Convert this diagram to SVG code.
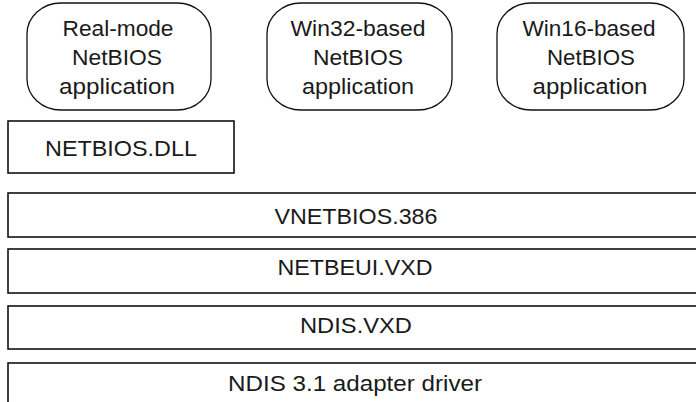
<svg xmlns="http://www.w3.org/2000/svg" width="696" height="402" viewBox="0 0 696 402">
<style>
.app{fill:#fff;stroke:#111;stroke-width:1.3}
.box{fill:#fff;stroke:#111;stroke-width:1.6}
text{font-family:"Liberation Sans",Arial,sans-serif;font-size:22px;fill:#1a1a1a;text-anchor:middle}
</style>
<rect width="696" height="402" fill="#fff"/>
<g id="realmode">
<rect class="app" x="27" y="3" width="184" height="107" rx="34" ry="31"/>
<text x="118" y="36" textLength="111" lengthAdjust="spacingAndGlyphs">Real-mode</text>
<text x="117" y="65" textLength="90" lengthAdjust="spacingAndGlyphs">NetBIOS</text>
<text x="117" y="94" textLength="116" lengthAdjust="spacingAndGlyphs">application</text>
</g>
<g id="win32">
<rect class="app" x="267" y="3" width="185" height="107" rx="34" ry="31"/>
<text x="358" y="36" textLength="135" lengthAdjust="spacingAndGlyphs">Win32-based</text>
<text x="358" y="65" textLength="90" lengthAdjust="spacingAndGlyphs">NetBIOS</text>
<text x="358" y="94" textLength="112" lengthAdjust="spacingAndGlyphs">application</text>
</g>
<g id="win16">
<rect class="app" x="497" y="3" width="187" height="107" rx="34" ry="31"/>
<text x="589" y="36" textLength="133" lengthAdjust="spacingAndGlyphs">Win16-based</text>
<text x="591" y="65" textLength="88" lengthAdjust="spacingAndGlyphs">NetBIOS</text>
<text x="590" y="94" textLength="115" lengthAdjust="spacingAndGlyphs">application</text>
</g>
<g id="netbiosdll">
<rect class="box" x="8" y="121" width="226" height="52"/>
<text x="121" y="156" textLength="152" lengthAdjust="spacingAndGlyphs">NETBIOS.DLL</text>
</g>
<g id="vnetbios">
<rect class="box" x="8" y="193" width="710" height="44"/>
<text x="356" y="224" textLength="163" lengthAdjust="spacingAndGlyphs">VNETBIOS.386</text>
</g>
<g id="netbeui">
<rect class="box" x="8" y="249" width="710" height="44"/>
<text x="355" y="275" textLength="155" lengthAdjust="spacingAndGlyphs">NETBEUI.VXD</text>
</g>
<g id="ndis">
<rect class="box" x="8" y="306" width="710" height="43"/>
<text x="356" y="333" textLength="112" lengthAdjust="spacingAndGlyphs">NDIS.VXD</text>
</g>
<g id="adapter">
<rect class="box" x="8" y="363" width="710" height="60"/>
<text x="355" y="391" textLength="254" lengthAdjust="spacingAndGlyphs">NDIS 3.1 adapter driver</text>
</g>
<g id="connectors"></g>
</svg>
